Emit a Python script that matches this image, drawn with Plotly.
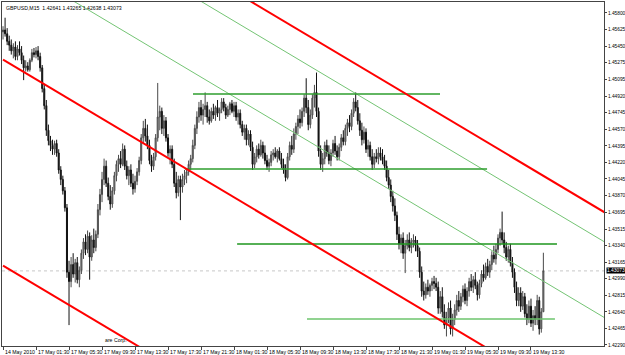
import plotly.graph_objects as go

# ---------------- data (GBPUSD M15) ----------------
bar_index = list(range(263))

opens = [
1.4560,1.4562,1.4558,1.4550,1.4546,1.4540,1.4544,1.4534,1.4542,1.4538,
1.4530,1.4522,1.4524,1.4520,1.4530,1.4538,1.4536,1.4540,1.4534,1.4522,
1.4500,1.4482,1.4456,1.4445,1.4440,1.4436,1.4442,1.4432,1.4414,1.4404,
1.4392,1.4374,1.4306,1.4296,1.4314,1.4304,1.4316,1.4298,1.4308,1.4326,
1.4338,1.4330,1.4344,1.4322,1.4340,1.4332,1.4346,1.4372,1.4388,1.4404,
1.4418,1.4400,1.4386,1.4378,1.4392,1.4408,1.4420,1.4426,1.4420,1.4436,
1.4418,1.4408,1.4414,1.4400,1.4394,1.4402,1.4412,1.4424,1.4448,1.4458,
1.4450,1.4440,1.4424,1.4418,1.4428,1.4448,1.4470,1.4476,1.4458,1.4466,
1.4448,1.4432,1.4436,1.4420,1.4400,1.4390,1.4404,1.4396,1.4404,1.4408,
1.4412,1.4420,1.4426,1.4440,1.4458,1.4470,1.4480,1.4472,1.4478,1.4482,
1.4470,1.4466,1.4476,1.4472,1.4480,1.4474,1.4478,1.4486,1.4480,1.4472,
1.4478,1.4484,1.4476,1.4482,1.4470,1.4474,1.4462,1.4454,1.4458,1.4446,
1.4452,1.4438,1.4420,1.4428,1.4436,1.4430,1.4440,1.4432,1.4424,1.4418,
1.4422,1.4430,1.4432,1.4428,1.4434,1.4426,1.4420,1.4414,1.4406,1.4428,
1.4440,1.4436,1.4452,1.4460,1.4468,1.4464,1.4476,1.4490,1.4480,1.4462,
1.4472,1.4490,1.4496,1.4476,1.4434,1.4420,1.4426,1.4440,1.4432,1.4424,
1.4432,1.4442,1.4434,1.4428,1.4438,1.4448,1.4444,1.4458,1.4464,1.4460,
1.4474,1.4486,1.4480,1.4466,1.4456,1.4446,1.4454,1.4436,1.4440,1.4428,
1.4420,1.4428,1.4426,1.4432,1.4428,1.4424,1.4418,1.4406,1.4398,1.4386,
1.4376,1.4366,1.4346,1.4336,1.4342,1.4326,1.4334,1.4340,1.4332,1.4338,
1.4340,1.4334,1.4328,1.4306,1.4286,1.4282,1.4290,1.4286,1.4292,1.4296,
1.4294,1.4290,1.4268,1.4280,1.4264,1.4250,1.4258,1.4268,1.4246,1.4256,
1.4266,1.4276,1.4270,1.4280,1.4288,1.4276,1.4286,1.4296,1.4290,1.4298,
1.4292,1.4282,1.4294,1.4304,1.4300,1.4312,1.4306,1.4314,1.4324,1.4320,
1.4330,1.4342,1.4348,1.4340,1.4332,1.4322,1.4330,1.4316,1.4306,1.4290,
1.4276,1.4284,1.4270,1.4280,1.4262,1.4256,1.4270,1.4252,1.4260,1.4256,
1.4276,1.4246,1.42641]

highs = [
1.4566,1.4575,1.4564,1.4556,1.4552,1.4548,1.4550,1.4546,1.4550,1.4545,
1.4535,1.4530,1.4528,1.4532,1.4542,1.4543,1.4544,1.4545,1.4538,1.4525,
1.4505,1.4488,1.4462,1.4450,1.4446,1.4445,1.4446,1.4436,1.4418,1.4408,
1.4396,1.4378,1.4318,1.4322,1.4326,1.4320,1.4322,1.4312,1.4330,1.4342,
1.4346,1.4350,1.4348,1.4345,1.4352,1.4350,1.4378,1.4394,1.4412,1.4426,
1.4424,1.4406,1.4398,1.4396,1.4412,1.4424,1.4430,1.4434,1.4442,1.4440,
1.4424,1.4418,1.4420,1.4410,1.4408,1.4416,1.4428,1.4452,1.4466,1.4468,
1.4462,1.4446,1.4430,1.4432,1.4452,1.4506,1.4482,1.4480,1.4472,1.4470,
1.4452,1.4440,1.4440,1.4426,1.4412,1.4408,1.4408,1.4410,1.4414,1.4416,
1.4424,1.4430,1.4446,1.4462,1.4476,1.4486,1.4488,1.4484,1.4496,1.4486,
1.4478,1.4480,1.4484,1.4482,1.4488,1.4480,1.4490,1.4490,1.4484,1.4482,
1.4486,1.4488,1.4486,1.4486,1.4478,1.4478,1.4466,1.4462,1.4462,1.4456,
1.4456,1.4444,1.4432,1.4440,1.4442,1.4446,1.4444,1.4440,1.4430,1.4426,
1.4434,1.4436,1.4438,1.4436,1.4438,1.4432,1.4426,1.4420,1.4432,1.4444,
1.4450,1.4458,1.4464,1.4472,1.4478,1.4480,1.4494,1.4511,1.4488,1.4478,
1.4494,1.4504,1.4517,1.4480,1.4440,1.4432,1.4444,1.4446,1.4440,1.4436,
1.4446,1.4450,1.4440,1.4442,1.4452,1.4456,1.4462,1.4468,1.4472,1.4478,
1.4490,1.4496,1.4488,1.4474,1.4464,1.4460,1.4458,1.4446,1.4444,1.4436,
1.4432,1.4436,1.4438,1.4438,1.4436,1.4430,1.4424,1.4414,1.4404,1.4392,
1.4384,1.4370,1.4354,1.4346,1.4348,1.4340,1.4346,1.4348,1.4342,1.4346,
1.4344,1.4340,1.4332,1.4312,1.4296,1.4294,1.4298,1.4294,1.4300,1.4302,
1.4300,1.4296,1.4286,1.4290,1.4272,1.4264,1.4274,1.4276,1.4262,1.4272,
1.4282,1.4286,1.4284,1.4292,1.4294,1.4290,1.4300,1.4304,1.4302,1.4306,
1.4296,1.4298,1.4308,1.4314,1.4316,1.4320,1.4318,1.4328,1.4334,1.4336,
1.4346,1.4352,1.4370,1.4348,1.4338,1.4334,1.4336,1.4322,1.4310,1.4296,
1.4290,1.4290,1.4286,1.4284,1.4272,1.4276,1.4278,1.4266,1.4270,1.4282,
1.4280,1.4268,1.43265]

lows = [
1.4552,1.4555,1.4546,1.4540,1.4536,1.4532,1.4530,1.4530,1.4535,1.4526,
1.4509,1.4518,1.4518,1.4518,1.4528,1.4533,1.4532,1.4530,1.4518,1.4496,
1.4478,1.4450,1.4440,1.4434,1.4430,1.4430,1.4428,1.4410,1.4398,1.4388,
1.4370,1.4300,1.4250,1.4290,1.4300,1.4295,1.4294,1.4290,1.4304,1.4320,
1.4324,1.4326,1.4298,1.4318,1.4326,1.4328,1.4342,1.4366,1.4380,1.4398,
1.4396,1.4382,1.4372,1.4374,1.4388,1.4402,1.4412,1.4416,1.4418,1.4414,
1.4404,1.4398,1.4396,1.4388,1.4390,1.4398,1.4408,1.4420,1.4442,1.4444,
1.4436,1.4420,1.4412,1.4414,1.4424,1.4444,1.4456,1.4452,1.4450,1.4444,
1.4428,1.4420,1.4416,1.4396,1.4384,1.4386,1.4361,1.4390,1.4398,1.4400,
1.4408,1.4414,1.4422,1.4436,1.4452,1.4464,1.4466,1.4462,1.4470,1.4464,
1.4462,1.4464,1.4468,1.4466,1.4470,1.4466,1.4474,1.4476,1.4468,1.4470,
1.4472,1.4474,1.4470,1.4466,1.4462,1.4458,1.4450,1.4446,1.4440,1.4440,
1.4434,1.4414,1.4416,1.4422,1.4426,1.4428,1.4426,1.4420,1.4414,1.4412,
1.4418,1.4424,1.4426,1.4422,1.4424,1.4416,1.4410,1.4402,1.4404,1.4424,
1.4430,1.4432,1.4446,1.4452,1.4458,1.4460,1.4470,1.4474,1.4456,1.4458,
1.4468,1.4480,1.4470,1.4428,1.4414,1.4412,1.4420,1.4428,1.4420,1.4418,
1.4428,1.4430,1.4424,1.4424,1.4434,1.4440,1.4440,1.4450,1.4454,1.4456,
1.4470,1.4476,1.4462,1.4450,1.4440,1.4442,1.4432,1.4428,1.4424,1.4414,
1.4416,1.4422,1.4420,1.4424,1.4420,1.4414,1.4402,1.4394,1.4380,1.4370,
1.4360,1.4340,1.4330,1.4326,1.4320,1.4305,1.4330,1.4328,1.4326,1.4332,
1.4328,1.4322,1.4300,1.4280,1.4276,1.4278,1.4282,1.4280,1.4286,1.4288,
1.4286,1.4262,1.4262,1.4258,1.4246,1.4238,1.4252,1.4240,1.4238,1.4250,
1.4260,1.4264,1.4266,1.4274,1.4272,1.4270,1.4280,1.4286,1.4284,1.4288,
1.4276,1.4278,1.4290,1.4296,1.4298,1.4302,1.4300,1.4308,1.4316,1.4314,
1.4326,1.4334,1.4336,1.4326,1.4318,1.4316,1.4312,1.4300,1.4284,1.4270,
1.4270,1.4264,1.4266,1.4258,1.4250,1.4252,1.4248,1.4244,1.4250,1.4250,
1.4240,1.4242,1.42638]

closes = [
1.4562,1.4558,1.4550,1.4546,1.4540,1.4544,1.4534,1.4542,1.4538,1.4530,
1.4522,1.4524,1.4520,1.4530,1.4538,1.4536,1.4540,1.4534,1.4522,1.4500,
1.4482,1.4456,1.4445,1.4440,1.4436,1.4442,1.4432,1.4414,1.4404,1.4392,
1.4374,1.4306,1.4296,1.4314,1.4304,1.4316,1.4298,1.4308,1.4326,1.4338,
1.4330,1.4344,1.4322,1.4340,1.4332,1.4346,1.4372,1.4388,1.4404,1.4418,
1.4400,1.4386,1.4378,1.4392,1.4408,1.4420,1.4426,1.4420,1.4436,1.4418,
1.4408,1.4414,1.4400,1.4394,1.4402,1.4412,1.4424,1.4448,1.4458,1.4450,
1.4440,1.4424,1.4418,1.4428,1.4448,1.4470,1.4476,1.4458,1.4466,1.4448,
1.4432,1.4436,1.4420,1.4400,1.4390,1.4404,1.4396,1.4404,1.4408,1.4412,
1.4420,1.4426,1.4440,1.4458,1.4470,1.4480,1.4472,1.4478,1.4482,1.4470,
1.4466,1.4476,1.4472,1.4480,1.4474,1.4478,1.4486,1.4480,1.4472,1.4478,
1.4484,1.4476,1.4482,1.4470,1.4474,1.4462,1.4454,1.4458,1.4446,1.4452,
1.4438,1.4420,1.4428,1.4436,1.4430,1.4440,1.4432,1.4424,1.4418,1.4422,
1.4430,1.4432,1.4428,1.4434,1.4426,1.4420,1.4414,1.4406,1.4428,1.4440,
1.4436,1.4452,1.4460,1.4468,1.4464,1.4476,1.4490,1.4480,1.4462,1.4472,
1.4490,1.4496,1.4476,1.4434,1.4420,1.4426,1.4440,1.4432,1.4424,1.4432,
1.4442,1.4434,1.4428,1.4438,1.4448,1.4444,1.4458,1.4464,1.4460,1.4474,
1.4486,1.4480,1.4466,1.4456,1.4446,1.4454,1.4436,1.4440,1.4428,1.4420,
1.4428,1.4426,1.4432,1.4428,1.4424,1.4418,1.4406,1.4398,1.4386,1.4376,
1.4366,1.4346,1.4336,1.4342,1.4326,1.4334,1.4340,1.4332,1.4338,1.4340,
1.4334,1.4328,1.4306,1.4286,1.4282,1.4290,1.4286,1.4292,1.4296,1.4294,
1.4290,1.4268,1.4280,1.4264,1.4250,1.4258,1.4268,1.4246,1.4256,1.4266,
1.4276,1.4270,1.4280,1.4288,1.4276,1.4286,1.4296,1.4290,1.4298,1.4292,
1.4282,1.4294,1.4304,1.4300,1.4312,1.4306,1.4314,1.4324,1.4320,1.4330,
1.4342,1.4348,1.4340,1.4332,1.4322,1.4330,1.4316,1.4306,1.4290,1.4276,
1.4284,1.4270,1.4280,1.4262,1.4256,1.4270,1.4252,1.4260,1.4256,1.4276,
1.4246,1.4264,1.43073]

time_tick_index = [0, 16, 32, 48, 64, 80, 96, 112, 128, 144, 160, 176, 192, 208, 224, 240, 256]
time_tick_labels = ["14 May 2010", "17 May 01:30", "17 May 05:30", "17 May 09:30", "17 May 13:30",
                    "17 May 17:30", "17 May 21:30", "18 May 01:30", "18 May 05:30", "18 May 09:30",
                    "18 May 13:30", "18 May 17:30", "18 May 21:30", "19 May 01:30", "19 May 05:30",
                    "19 May 09:30", "19 May 13:30"]

price_tick_values = [1.42290, 1.42465, 1.42640, 1.42815, 1.42990, 1.43165, 1.43340, 1.43515,
                     1.43695, 1.43870, 1.44045, 1.44220, 1.44395, 1.44570, 1.44745, 1.44920,
                     1.45095, 1.45275, 1.45450, 1.45625, 1.45800]
price_tick_labels = ["%.5f" % v for v in price_tick_values]

# trend lines: (bar0, price0, bar1, price1)
red_trendlines = [
    (0, 1.45307, 250, 1.42057),
    (0, 1.43129, 120, 1.41569),
    (110, 1.46054, 300, 1.43584),
]
green_trendlines = [
    (30, 1.45980, 300, 1.42470),
    (90, 1.46001, 300, 1.43271),
]
# horizontal levels: (bar0, bar1, price, colour)
levels = [
    (92.1, 211.9, 1.44944, "#2e9e2e"),
    (88.2, 234.7, 1.44151, "#2e9e2e"),
    (113.5, 268.6, 1.43358, "#1e961e"),
    (147.4, 267.6, 1.42565, "#6cc46c"),
]

title_text = "GBPUSD,M15  1.42641 1.43265 1.42638 1.43073"
last_price = 1.43073

FONT = "Liberation Sans, Arial, sans-serif"

fig = go.Figure()

for (x0, y0, x1, y1) in green_trendlines:
    fig.add_trace(go.Scatter(x=[x0, x1], y=[y0, y1], mode="lines",
                             line=dict(color="#74c474", width=1), hoverinfo="skip", showlegend=False))
for (x0, x1, y, c) in levels:
    fig.add_trace(go.Scatter(x=[x0, x1], y=[y, y], mode="lines",
                             line=dict(color=c, width=1.6), hoverinfo="skip", showlegend=False))
for (x0, y0, x1, y1) in red_trendlines:
    fig.add_trace(go.Scatter(x=[x0, x1], y=[y0, y1], mode="lines",
                             line=dict(color="#ff0000", width=2), hoverinfo="skip", showlegend=False))

fig.add_trace(go.Candlestick(
    x=bar_index, open=opens, high=highs, low=lows, close=closes,
    increasing=dict(line=dict(color="#4a4a4a", width=1), fillcolor="#9a9a9a"),
    decreasing=dict(line=dict(color="#111111", width=1), fillcolor="#111111"),
    whiskerwidth=0, showlegend=False, hoverinfo="skip"))

fig.add_shape(type="line", xref="paper", x0=0, x1=1, yref="y", y0=last_price, y1=last_price,
              line=dict(color="#c8c8c8", width=1, dash="dot"), layer="below")

annotations = []
for idx, lab in zip(time_tick_index, time_tick_labels):
    annotations.append(dict(x=idx, xref="x", y=0, yref="paper", text=lab, showarrow=False,
                            xanchor="left", yanchor="top", xshift=0, yshift=-1,
                            font=dict(family=FONT, size=5.2, color="#000")))
annotations.append(dict(x=0.003, xref="paper", y=1, yref="paper", text=title_text, showarrow=False,
                        xanchor="left", yanchor="top", yshift=-1,
                        font=dict(family=FONT, size=5.2, color="#000")))
annotations.append(dict(x=1, xref="paper", y=last_price, yref="y", text="1.43073", showarrow=False,
                        xanchor="left", yanchor="middle", xshift=2, bgcolor="#000000", borderpad=0,
                        font=dict(family=FONT, size=4.9, color="#ffffff")))
annotations.append(dict(x=0.168, xref="paper", y=0.004, yref="paper", text="are Corp.", showarrow=False,
                        xanchor="left", yanchor="bottom",
                        font=dict(family=FONT, size=5.2, color="#000")))

fig.update_layout(
    width=625, height=355,
    margin=dict(l=2, r=21, t=2, b=9, pad=0),
    paper_bgcolor="#ffffff", plot_bgcolor="#ffffff",
    showlegend=False,
    annotations=annotations,
    xaxis=dict(range=[-0.5, 291.4], showgrid=False, zeroline=False, showline=True, mirror=True,
               linecolor="#444", linewidth=1, tickvals=time_tick_index, ticks="outside", ticklen=3,
               tickcolor="#444", showticklabels=False, rangeslider=dict(visible=False),
               automargin=False, fixedrange=True),
    yaxis=dict(side="right", range=[1.42279, 1.45916], showgrid=False, zeroline=False, showline=True,
               mirror=True, linecolor="#444", linewidth=1, tickvals=price_tick_values,
               ticktext=price_tick_labels, ticks="outside", ticklen=2, tickcolor="#444",
               ticklabelstandoff=0,
               tickfont=dict(family=FONT, size=4.8, color="#000"), automargin=False, fixedrange=True),
)

fig.write_html("out.html")
